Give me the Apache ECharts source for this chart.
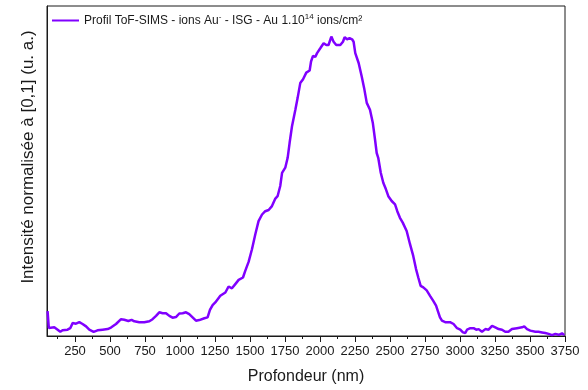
<!DOCTYPE html>
<html>
<head>
<meta charset="utf-8">
<script src="https://cdn.jsdelivr.net/npm/echarts@6/dist/echarts.min.js"></script>
<style>html,body{margin:0;padding:0;background:#fff}#c{width:588px;height:390px}</style>
</head>
<body>
<div id="c"></div>
<script>
const depthNm = [54,63,74,102,126,145,161,197,216,233,257,281,304,329,352,383,411,447,483,507,543,579,602,631,654,674,709,745,781,804,829,852,876,900,924,947,971,995,1019,1043,1066,1090,1114,1138,1174,1197,1214,1233,1252,1288,1324,1347,1371,1395,1419,1450,1466,1490,1514,1538,1561,1586,1609,1633,1657,1681,1697,1716,1729,1752,1769,1783,1800,1824,1840,1859,1879,1902,1926,1936,1950,1966,1979,2002,2026,2045,2061,2081,2097,2116,2145,2164,2176,2193,2211,2229,2240,2252,2276,2298,2315,2334,2357,2377,2393,2405,2416,2434,2452,2471,2488,2512,2536,2552,2571,2591,2619,2643,2666,2686,2702,2719,2738,2762,2786,2809,2829,2845,2857,2871,2894,2929,2954,2979,3002,3021,3038,3050,3074,3097,3116,3133,3157,3181,3204,3229,3252,3276,3300,3323,3346,3371,3407,3443,3459,3479,3502,3538,3561,3586,3609,3633,3657,3681,3705,3729,3745];
const intensity = [0.083,0.027,0.029,0.029,0.021,0.014,0.019,0.021,0.026,0.043,0.041,0.046,0.040,0.032,0.021,0.014,0.019,0.021,0.023,0.028,0.040,0.056,0.054,0.050,0.054,0.049,0.046,0.046,0.049,0.056,0.067,0.079,0.076,0.076,0.067,0.061,0.063,0.075,0.076,0.079,0.073,0.062,0.051,0.053,0.059,0.062,0.087,0.103,0.112,0.134,0.145,0.165,0.159,0.173,0.187,0.195,0.217,0.247,0.289,0.339,0.383,0.405,0.416,0.420,0.433,0.458,0.466,0.500,0.544,0.561,0.594,0.644,0.699,0.754,0.793,0.843,0.856,0.878,0.885,0.915,0.934,0.930,0.943,0.959,0.976,0.970,0.970,0.998,0.981,0.970,0.970,0.981,0.996,0.989,0.993,0.989,0.981,0.943,0.910,0.865,0.827,0.777,0.754,0.711,0.655,0.610,0.594,0.544,0.511,0.489,0.466,0.450,0.439,0.416,0.394,0.378,0.350,0.306,0.267,0.223,0.195,0.167,0.162,0.152,0.134,0.117,0.101,0.079,0.062,0.051,0.046,0.046,0.040,0.026,0.021,0.012,0.010,0.021,0.026,0.026,0.021,0.023,0.014,0.023,0.021,0.034,0.029,0.023,0.021,0.014,0.014,0.023,0.026,0.029,0.032,0.023,0.018,0.014,0.014,0.012,0.010,0.007,0.003,0.007,0.004,0.009,0.003];
const majorTicks = [250,500,750,1000,1250,1500,1750,2000,2250,2500,2750,3000,3250,3500,3750];
const minorTicks = [125,375,625,875,1125,1375,1625,1875,2125,2375,2625,2875,3125,3375,3625];
const seriesName = 'Profil ToF-SIMS';
const xTitle = 'Profondeur (nm)';
const yTitle = 'Intensité normalisée à [0,1] (u. a.)';

const FONT = "'Liberation Sans', Arial, sans-serif";
const INK = '#1a1a1a';
const LINE = '#8000ff';
const chart = echarts.init(document.getElementById('c'), null, {renderer: 'canvas'});
chart.setOption({
  animation: false,
  backgroundColor: '#fff',
  grid: {left: 47, right: 23, top: 6, bottom: 53, show: true, borderColor: INK, borderWidth: 1},
  legend: {
    left: 52, top: 13, padding: 0, itemWidth: 27, itemHeight: 2, icon: 'rect', itemGap: 0,
    data: [seriesName],
    formatter: () => '{a|Profil ToF-SIMS - ions Au}{s|-}{a| - ISG - Au 1.10}{s|14}{a| ions/cm²}',
    itemStyle: {color: LINE},
    textStyle: {
      fontFamily: FONT, fontSize: 12, color: INK,
      rich: {
        a: {fontFamily: FONT, fontSize: 12, color: INK, lineHeight: 15},
        s: {fontFamily: FONT, fontSize: 8, color: INK, verticalAlign: 'top', lineHeight: 9}
      }
    }
  },
  xAxis: [{
    type: 'value', min: 50, max: 3750,
    name: xTitle, nameLocation: 'middle', nameGap: 33,
    nameTextStyle: {fontFamily: FONT, fontSize: 16, color: INK},
    axisLine: {show: true, onZero: false, lineStyle: {color: INK, width: 1}},
    axisTick: {show: true, customValues: majorTicks, length: 6, lineStyle: {color: INK}},
    axisLabel: {customValues: majorTicks, fontFamily: FONT, fontSize: 13, color: INK, margin: 9,
                formatter: v => String(v)},
    splitLine: {show: false}
  }, {
    type: 'value', min: 50, max: 3750, position: 'bottom',
    axisLine: {show: false},
    axisTick: {show: true, customValues: minorTicks, length: 3, lineStyle: {color: INK}},
    axisLabel: {show: false},
    splitLine: {show: false}
  }],
  yAxis: {
    type: 'value', min: 0, max: 1.1,
    name: yTitle, nameLocation: 'middle', nameGap: 10, nameRotate: 90,
    nameTextStyle: {fontFamily: FONT, fontSize: 17, color: INK, padding: [0, 0, 0, 28]},
    axisLine: {show: true, onZero: false, lineStyle: {color: INK, width: 1}},
    axisTick: {show: false}, axisLabel: {show: false}, splitLine: {show: false}
  },
  series: [{
    name: seriesName, type: 'line', symbol: 'none', smooth: false,
    data: depthNm.map((x, i) => [x, intensity[i]]),
    lineStyle: {color: LINE, width: 2.5},
    itemStyle: {color: LINE}
  }]
});
</script>
</body>
</html>
